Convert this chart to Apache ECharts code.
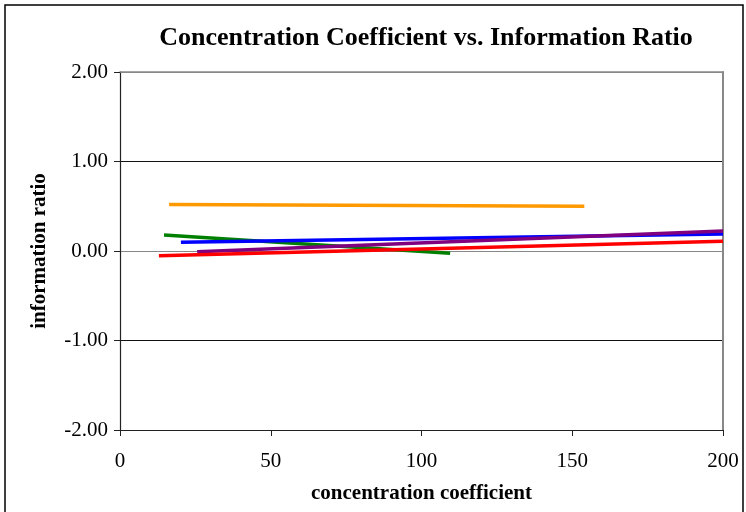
<!DOCTYPE html>
<html>
<head>
<meta charset="utf-8">
<script src="https://cdn.jsdelivr.net/npm/echarts@6/dist/echarts.min.js"></script>
<style>
html,body{margin:0;padding:0;background:#fff;}
#chart{width:746px;height:512px;}
</style>
</head>
<body>
<div id="chart"></div>
<script>
const titleText = 'Concentration Coefficient vs. Information Ratio';
const xName = 'concentration coefficient';
const yName = 'information ratio';

// trend line endpoints (x = concentration coefficient, y = information ratio)
const orangeX = [16.3, 154];
const orangeY = [0.52, 0.50];
const greenX = [14.6, 109.5];
const greenY = [0.18, -0.026];
const blueX = [20.2, 200];
const blueY = [0.097, 0.19];
const purpleX = [25.6, 200];
const purpleY = [-0.008, 0.223];
const redX = [12.9, 200];
const redY = [-0.052, 0.11];

const seriesDefs = [
  {name: 'orange', x: orangeX, y: orangeY, color: '#FF9900'},
  {name: 'green', x: greenX, y: greenY, color: '#008000'},
  {name: 'blue', x: blueX, y: blueY, color: '#0000FF'},
  {name: 'purple', x: purpleX, y: purpleY, color: '#800080'},
  {name: 'red', x: redX, y: redY, color: '#FF0000'}
];

const font = '"Liberation Serif", "Times New Roman", serif';
const chart = echarts.init(document.getElementById('chart'), null, {renderer: 'canvas'});

chart.setOption({
  animation: false,
  backgroundColor: '#fff',
  title: {
    text: titleText,
    left: 421, top: 20, textAlign: 'center',
    textStyle: {fontFamily: font, fontWeight: 'bold', fontSize: 26, color: '#000'}
  },
  grid: {left: 120, right: 23, top: 72, bottom: 82, containLabel: false},
  xAxis: [{
    type: 'value', min: 0, max: 200, interval: 50,
    position: 'bottom',
    name: xName, nameLocation: 'middle', nameGap: 53,
    nameTextStyle: {fontFamily: font, fontWeight: 'bold', fontSize: 21, color: '#000'},
    axisLine: {onZero: false, lineStyle: {color: '#222', width: 1.2}},
    axisTick: {inside: false, length: 6, lineStyle: {color: '#222'}},
    axisLabel: {fontFamily: font, fontSize: 21, color: '#000', margin: 21},
    splitLine: {show: false}
  }, {
    type: 'value', min: 0, max: 200, position: 'top',
    axisLine: {show: true, onZero: false, lineStyle: {color: '#888', width: 1.5}},
    axisTick: {show: false}, axisLabel: {show: false}, splitLine: {show: false}
  }],
  yAxis: [{
    type: 'value', min: -2, max: 2, interval: 1,
    position: 'left',
    name: yName, nameLocation: 'middle', nameGap: 70, nameRotate: 90,
    nameTextStyle: {fontFamily: font, fontWeight: 'bold', fontSize: 21, color: '#000'},
    axisLine: {onZero: false, lineStyle: {color: '#222', width: 1.2}},
    axisTick: {inside: false, length: 6, lineStyle: {color: '#222'}},
    axisLabel: {fontFamily: font, fontSize: 21, color: '#000', margin: 12,
      formatter: v => v.toFixed(2)},
    splitLine: {show: true, lineStyle: {color: ['#000', '#111', '#888', '#111', '#888'], width: 1.2}}
  }, {
    type: 'value', min: -2, max: 2, position: 'right',
    axisLine: {show: true, onZero: false, lineStyle: {color: '#888', width: 2}},
    axisTick: {show: false}, axisLabel: {show: false}, splitLine: {show: false}
  }],
  graphic: [{
    type: 'rect', silent: true,
    shape: {x: 5, y: 5, width: 738, height: 520},
    style: {fill: 'none', stroke: '#000', lineWidth: 1.5}
  }],
  series: seriesDefs.map(s => ({
    name: s.name, type: 'line', showSymbol: false,
    data: s.x.map((xv, i) => [xv, s.y[i]]),
    lineStyle: {color: s.color, width: 3.5},
    itemStyle: {color: s.color}
  }))
});
</script>
</body>
</html>
